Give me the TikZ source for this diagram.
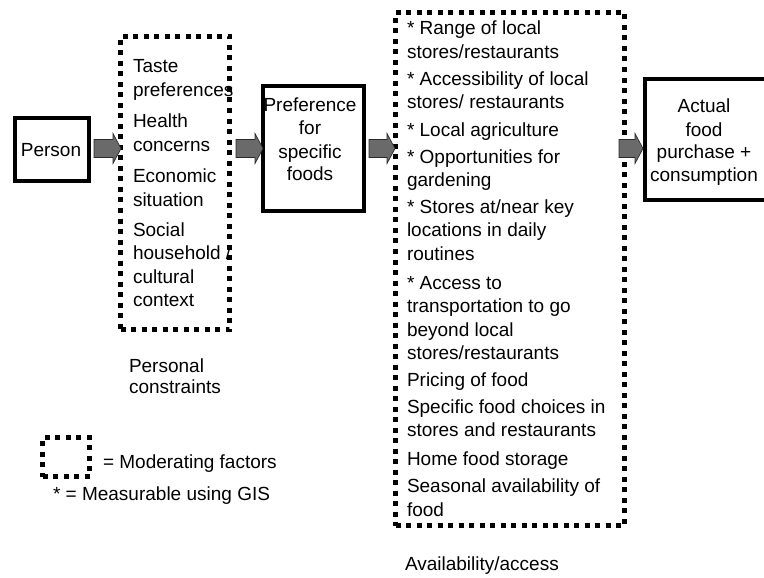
\documentclass[tikz,border=0pt]{standalone}
\usepackage{fontspec}
\setmainfont{Liberation Sans}
\usetikzlibrary{calc}
\definecolor{arrowgray}{HTML}{6A6A6A}
\definecolor{arrowedge}{HTML}{2A2A2A}
\begin{document}
\begin{tikzpicture}[x=1pt,y=-1pt,
  every node/.style={font=\fontsize{19}{23}\selectfont, inner sep=0pt, outer sep=0pt},
  solidbox/.style={draw, line width=4pt, rectangle},
  dotbox/.style={draw, line width=5pt, dash pattern=on 5pt off 5.5pt, rectangle},
  ltext/.style={anchor=base west},
  ctext/.style={anchor=base},
  blockarrow/.style={fill=arrowgray, draw=arrowedge, line width=0.7pt,
    to path={let \p1=(\tikztostart), \p2=(\tikztotarget) in
      (\x1,\y1+9pt) -- (\x2-8pt,\y1+9pt) -- (\x2-8pt,\y1+15pt) -- (\x2,\y1)
      -- (\x2-8pt,\y1-15pt) -- (\x2-8pt,\y1-9pt) -- (\x1,\y1-9pt) -- cycle}}
]
\useasboundingbox (0,0) rectangle (764,578);
\clip (0,0) rectangle (764,578);

% boxes
\node[solidbox, minimum width=74pt, minimum height=63pt] (person) at (52,149.5) {};
\node[dotbox, minimum width=109pt, minimum height=293pt] (pc) at (175,183) {};
\node[solidbox, minimum width=101pt, minimum height=125pt] (pref) at (313.5,148.5) {};
\node[dotbox, minimum width=229pt, minimum height=513pt] (av) at (510,269) {};
\node[solidbox, minimum width=145pt, minimum height=121pt] (act) at (717.5,139.5) {};
\node[dotbox, minimum width=47pt, minimum height=39pt] (leg) at (66,457) {};

% texts in solid boxes
\node[ctext] (persontxt) at (51,157) {Person};
\foreach \y/\t [count=\i] in {111.7/Preference, 135/for, 158/specific, 180.5/foods}
  \node[ctext] (pf\i) at (310,\y) {\t};
\foreach \y/\t [count=\i] in {113/Actual, 136/food, 158.5/{purchase +}, 181.5/consumption}
  \node[ctext] (ac\i) at (704,\y) {\t};

% personal constraints
\foreach \y/\t [count=\i] in {73/Taste, 96.5/preferences, 128/Health, 151.5/concerns,
  182.5/Economic, 206/situation, 236/Social/, 259.5/{household /}, 283/cultural, 306.5/context}
  \node[ltext] (pc\i) at (133,\y) {\t};
\node[ltext] (pcl1) at (129,372) {Personal};
\node[ltext] (pcl2) at (129,393.5) {constraints};

% availability / access
\foreach \y/\t [count=\i] in {
  35/{* Range of local}, 58.5/{stores/restaurants},
  85.5/{* Accessibility of local}, 109/{stores/ restaurants},
  136.7/{* Local agriculture},
  163.3/{* Opportunities for}, 186.8/{gardening},
  213.3/{* Stores at/near key}, 236.8/{locations in daily}, 260.3/{routines},
  289.3/{* Access to}, 312.8/{transportation to go}, 336.3/{beyond local}, 359.8/{stores/restaurants},
  386/{Pricing of food},
  413.3/{Specific food choices in}, 436.8/{stores and restaurants},
  465/{Home food storage},
  492.7/{Seasonal availability of}, 516.2/{food}}
  \node[ltext] (av\i) at (407,\y) {\t};
\node[ltext] (avl) at (405,570) {Availability/access};

% legend
\node[ltext] (leg1) at (103,468) {= Moderating factors};
\node[ltext] (leg2) at (53,500) {* = Measurable using GIS};

% arrows
\coordinate (ay) at (0,148.5);
\draw[blockarrow] ($(person.east |- ay)+(5,0)$) to ($(pc.west |- ay)+(0.5,0)$);
\draw[blockarrow] ($(pc.east |- ay)+(6.5,0)$) to ($(pref.west |- ay)+(0,0)$);
\draw[blockarrow] ($(pref.east |- ay)+(5,0)$) to ($(av.west |- ay)+(-0.5,0)$);
\draw[blockarrow] ($(av.east |- ay)+(-5.5,0)$) to ($(act.west |- ay)+(-2,0)$);
\end{tikzpicture}
\end{document}
